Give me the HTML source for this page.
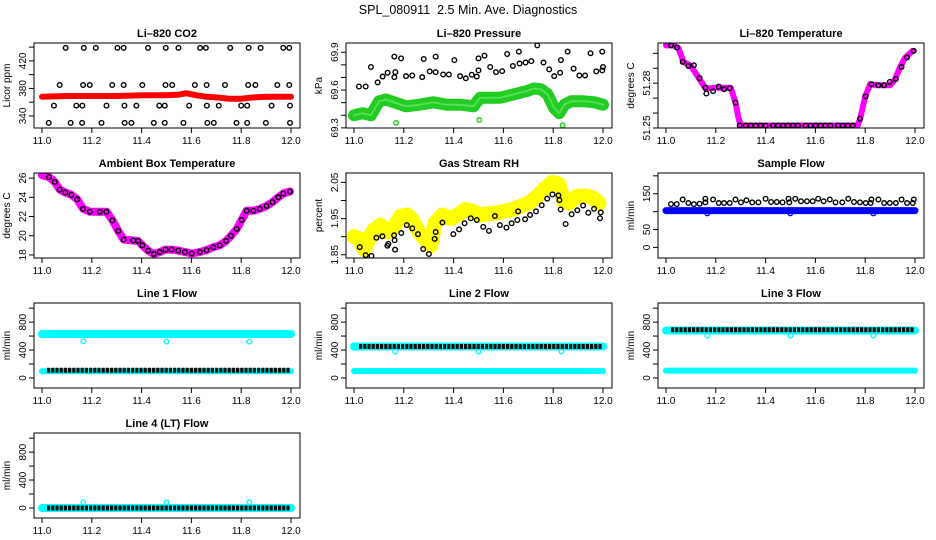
<!DOCTYPE html>
<html><head><meta charset="utf-8"><style>
html,body{margin:0;padding:0;background:#fff;}
svg{display:block;font-family:"Liberation Sans",sans-serif;}
</style></head><body>
<svg id="chart" width="936" height="540" viewBox="0 0 936 540" xmlns="http://www.w3.org/2000/svg">
<rect width="936" height="540" fill="#fff"/>
<text x="468" y="14" text-anchor="middle" font-size="12.5" style="white-space:pre">SPL_080911  2.5 Min. Ave. Diagnostics</text>
</svg>
<script>
// ---- CO2 ----
const co2BlackX=[11.095,11.168,11.216,11.303,11.328,11.426,11.497,11.548,11.635,11.658,11.756,11.830,11.878,11.969,11.993,
11.071,11.165,11.192,11.282,11.328,11.403,11.496,11.523,11.614,11.661,11.735,11.828,11.857,11.945,11.993,
11.048,11.138,11.162,11.259,11.331,11.379,11.471,11.493,11.591,11.662,11.710,11.800,11.824,11.922,11.996,
11.027,11.115,11.161,11.239,11.332,11.359,11.449,11.493,11.568,11.664,11.690,11.781,11.824,11.899,11.996];
const co2BlackY=[439,439,439,439,439,439,439,439,439,439,439,439,439,439,439,
385,385,385,385,385,385,385,385,385,385,385,385,385,385,385,
355,355,355,355,355,355,355,355,355,355,355,355,355,355,355,
330,330,330,330,330,330,330,330,330,330,330,330,330,330,330];
const co2RedX=[11.0,11.1,11.2,11.3,11.4,11.5,11.55,11.58,11.62,11.66,11.7,11.75,11.8,11.85,11.9,12.0];
const co2RedY=[368,369,369,369,370,370,371,373,370,368,367,365,365,367,368,368];
// ---- Pressure ----
const prGreenX=[11.0,11.034,11.068,11.101,11.128,11.169,11.209,11.264,11.318,11.372,11.426,11.480,11.507,11.534,11.588,11.642,11.696,11.723,11.75,11.777,11.804,11.824,11.845,11.872,11.926,11.966,12.0];
const prGreenY=[69.40,69.416,69.40,69.511,69.525,69.498,69.471,69.484,69.503,69.484,69.484,69.471,69.539,69.539,69.539,69.566,69.593,69.612,69.607,69.566,69.457,69.416,69.484,69.511,69.511,69.503,69.484];
const prGreenOutX=[11.169,11.503,11.838];
const prGreenOutY=[69.34,69.362,69.321];
const prBlackX=[11.020,11.047,11.068,11.095,11.115,11.135,11.162,11.166,11.162,11.189,11.209,11.234,11.274,11.280,11.304,11.328,11.328,11.358,11.381,11.403,11.426,11.449,11.473,11.493,11.500,11.500,11.524,11.547,11.570,11.595,11.615,11.638,11.662,11.665,11.689,11.712,11.736,11.761,11.784,11.804,11.828,11.831,11.858,11.882,11.905,11.928,11.950,11.973,11.997,12.0,11.997];
const prBlackY=[69.628,69.628,69.783,69.661,69.707,69.737,69.865,69.742,69.702,69.851,69.710,69.715,69.702,69.846,69.748,69.865,69.742,69.723,69.723,69.837,69.710,69.693,69.721,69.707,69.851,69.756,69.873,69.783,69.742,69.750,69.886,69.791,69.905,69.810,69.818,69.829,69.954,69.818,69.764,69.710,69.737,69.837,69.905,69.770,69.715,69.715,69.892,69.748,69.905,69.783,69.756];
// ---- Li-820 Temperature ----
const tmpX=[11.0,11.03,11.05,11.07,11.10,11.13,11.16,11.20,11.26,11.28,11.29,11.30,11.77,11.78,11.80,11.82,11.85,11.90,11.92,11.94,11.96,11.99];
const tmpY=[51.3053,51.3053,51.3034,51.2943,51.2915,51.2839,51.2763,51.2770,51.2770,51.2667,51.2574,51.2517,51.2517,51.2563,51.2712,51.2793,51.2786,51.2786,51.2828,51.2908,51.2970,51.3016];
const tmpBlackX=[11.020,11.044,11.067,11.090,11.112,11.135,11.158,11.162,11.189,11.212,11.233,11.256,11.279,11.296,11.32,11.34,11.36,11.38,11.40,11.43,11.45,11.47,11.49,11.51,11.53,11.56,11.58,11.60,11.62,11.64,11.66,11.69,11.71,11.73,11.75,11.779,11.802,11.825,11.853,11.876,11.899,11.923,11.946,11.968,11.995];
const tmpBlackY=[51.3053,51.3039,51.2943,51.2915,51.2920,51.2834,51.2770,51.2731,51.2747,51.2777,51.2759,51.2766,51.2671,51.2517,51.2517,51.2517,51.2517,51.2517,51.2517,51.2517,51.2517,51.2517,51.2517,51.2517,51.2517,51.2517,51.2517,51.2517,51.2517,51.2517,51.2517,51.2517,51.2517,51.2517,51.2517,51.2563,51.2712,51.2793,51.2786,51.2786,51.2809,51.2828,51.2908,51.2972,51.3016];
// ---- Ambient ----
const ambX=[11.0,11.028,11.051,11.071,11.094,11.118,11.141,11.165,11.192,11.232,11.259,11.283,11.306,11.328,11.366,11.386,11.403,11.426,11.449,11.473,11.496,11.520,11.547,11.574,11.601,11.634,11.661,11.688,11.714,11.739,11.759,11.782,11.802,11.822,11.849,11.875,11.902,11.926,11.949,11.969,11.996];
const ambY=[26.3,26.1,25.6,24.8,24.5,24.25,23.8,22.8,22.5,22.5,22.5,21.6,20.5,19.6,19.5,19.45,19.0,18.45,18.1,18.3,18.55,18.55,18.45,18.3,18.15,18.3,18.5,18.8,19.0,19.45,20.0,20.7,21.65,22.6,22.6,22.8,23.1,23.5,24.0,24.4,24.6];
// ---- RH ----
const rhYellowX=[11.0,11.020,11.040,11.054,11.080,11.107,11.134,11.161,11.187,11.214,11.234,11.261,11.288,11.308,11.325,11.355,11.388,11.415,11.448,11.475,11.509,11.535,11.569,11.602,11.636,11.669,11.703,11.730,11.763,11.797,11.823,11.843,11.863,11.897,11.930,11.957,11.984];
const rhYellowY=[1.90,1.894,1.866,1.885,1.918,1.932,1.913,1.927,1.956,1.96,1.946,1.913,1.89,1.875,1.937,1.96,1.95,1.96,1.975,1.97,1.96,1.963,1.965,1.97,1.975,1.984,1.993,2.008,2.03,2.05,2.045,1.998,1.993,2.012,2.012,2.008,1.993];
const rhBlackX=[11.023,11.047,11.070,11.090,11.114,11.134,11.138,11.161,11.163,11.165,11.190,11.212,11.234,11.257,11.278,11.301,11.324,11.328,11.355,11.399,11.422,11.444,11.469,11.493,11.519,11.542,11.566,11.586,11.612,11.633,11.656,11.659,11.687,11.707,11.731,11.754,11.776,11.797,11.821,11.825,11.830,11.850,11.874,11.897,11.920,11.941,11.964,11.988,11.991];
const rhBlackY=[1.871,1.849,1.847,1.897,1.901,1.875,1.880,1.904,1.890,1.864,1.910,1.932,1.923,1.907,1.866,1.852,1.894,1.913,1.939,1.907,1.920,1.937,1.951,1.946,1.927,1.916,1.957,1.932,1.925,1.937,1.946,1.970,1.948,1.960,1.970,1.987,2.005,2.017,2.014,2.001,1.975,1.935,1.962,1.973,1.986,1.966,1.977,1.951,1.967];
// ---- Sample Flow ----
const sfBlueX=[11.0,12.0];
const sfBlueY=[103,103];
const sfBlueOutX=[11.166,11.499,11.833];
const sfBlueOutY=[95,95,95];
const sfBlackX=[11.020,11.043,11.067,11.090,11.112,11.135,11.158,11.158,11.189,11.212,11.233,11.256,11.279,11.301,11.323,11.346,11.371,11.400,11.422,11.445,11.468,11.492,11.495,11.519,11.542,11.566,11.589,11.611,11.633,11.658,11.681,11.708,11.732,11.755,11.779,11.802,11.822,11.825,11.853,11.876,11.899,11.923,11.946,11.968,11.991,11.995];
const sfBlackY=[121,121,134,124,121,122,126,136,134,124,124,124,134,126,132,126,126,136,127,127,126,136,126,136,129,129,129,136,129,134,126,126,136,127,126,124,124,134,134,124,124,124,134,124,124,134];
// ---- Line flows ----
const flowX=[11.0,12.0];
const flowBlackX=[11.02,11.995];
const outX=[11.166,11.5,11.833];
const l1Cyan=[630,630]; const l1Black=[110,110]; const l1Low=[97,97]; const l1Out=[525,520,520];
const l2Cyan=[450,450]; const l2Black=[450,450]; const l2Low=[100,100]; const l2Out=[380,380,380];
const l3Cyan=[680,680]; const l3Black=[690,690]; const l3Low=[105,105]; const l3Out=[608,608,608];
const l4Cyan=[0,0]; const l4Black=[0,0]; const l4Out=[80,80,80];
// ---- tick arrays ----
const xTicks=[11.0,11.2,11.4,11.6,11.8,12.0];
const xTickLabels=["11.0","11.2","11.4","11.6","11.8","12.0"];
const flowTicks=[0,200,400,600,800,1000]; const flowLabels=["0","","400","","800",""];

const svg=document.getElementById('chart');
const NS='http://www.w3.org/2000/svg';
function mk(tag,attrs,parent){const e=document.createElementNS(NS,tag);for(const k in attrs)e.setAttribute(k,attrs[k]);(parent||svg).appendChild(e);return e;}

function panel(col,row,o){
  const L=34+312*col, T=43+130*row, W=266, H=85;
  const g=mk('g',{});
  
  
  const xs=v=>L+8+(v-11)*249;
  const ys=v=>T+H-(v-o.ylim[0])/(o.ylim[1]-o.ylim[0])*H;
  const t=mk('text',{x:L+W/2,y:T-6,'text-anchor':'middle','font-size':11,'font-weight':'bold'},g);
  t.textContent=o.title;
  
  
  const yl=mk('text',{transform:`translate(${L-24},${T+H/2}) rotate(-90)`,'text-anchor':'middle','font-size':10},g);
  yl.textContent=o.ylab;
  
  
  const ax=mk('g',{stroke:'#000','stroke-width':1},g);
  
  
  mk('line',{x1:xs(11),x2:xs(12),y1:T+H,y2:T+H},ax);
  xTicks.forEach((v,i)=>{
    mk('line',{x1:xs(v),x2:xs(v),y1:T+H,y2:T+H+5},ax);
    const tl=mk('text',{x:xs(v),y:T+H+16,'text-anchor':'middle','font-size':10,stroke:'none'},g);
    tl.textContent=xTickLabels[i];
    
    
  });
  const tk=o.ticks;
  mk('line',{x1:L,x2:L,y1:ys(tk[0]),y2:ys(tk[tk.length-1])},ax);
  tk.forEach((v,i)=>{
    mk('line',{x1:L-5,x2:L,y1:ys(v),y2:ys(v)},ax);
    if(o.labels[i]){
      const tl=mk('text',{transform:`translate(${L-8},${ys(v)}) rotate(-90)`,'text-anchor':'middle','font-size':10},g);
      tl.textContent=o.labels[i];
      
      
    }
  });
  const clip='clip'+col+row;
  const cp=mk('clipPath',{id:clip},g); mk('rect',{x:L,y:T,width:W,height:H},cp);
  const dg=mk('g',{'clip-path':`url(#${clip})`},g);
  o.draw(dg,xs,ys);
  mk('rect',{x:L,y:T,width:W,height:H,fill:'none',stroke:'#000','stroke-width':1},g);
}
function band(g,xs,ys,X,Y,color,w,name){
  let d='';X.forEach((x,i)=>{d+=(i?'L':'M')+xs(x).toFixed(1)+','+ys(Y[i]).toFixed(1);});
  const p=mk('path',{d:d,fill:'none',stroke:color,'stroke-width':w,'stroke-linecap':'round','stroke-linejoin':'round'},g);
  
  
  return p;
}
function pts(g,xs,ys,X,Y,color,name){
  X.forEach((x,i)=>{
    const c=mk('circle',{cx:xs(x),cy:ys(Y[i]),r:2.3,fill:'none',stroke:color,'stroke-width':1.4},g);
    
    
  });
}
function dotRow(g,xs,ys,X,Y,color,name){
  const p=band(g,xs,ys,X,Y,color,5,name);
  p.setAttribute('stroke-linecap','butt');
  p.setAttribute('stroke-dasharray','3.2 1');
}

panel(0,0,{name:'co2',title:'Li\u2013820 CO2',ylab:'Licor ppm',ylim:[322.5,446],ticks:[340,360,380,400,420,440],labels:['340','','380','','420',''],
  draw:(g,xs,ys)=>{band(g,xs,ys,co2RedX,co2RedY,'#ff0000',6,'co2-series');pts(g,xs,ys,co2BlackX,co2BlackY,'#000','co2-point');}});
panel(1,0,{name:'pressure',title:'Li\u2013820 Pressure',ylab:'kPa',ylim:[69.299,69.973],ticks:[69.3,69.4,69.5,69.6,69.7,69.8,69.9],labels:['69.3','','','69.6','','','69.9'],
  draw:(g,xs,ys)=>{band(g,xs,ys,prGreenX,prGreenY,'#22cc22',12,'pressure-series');band(g,xs,ys,prGreenX,prGreenY,'#55e055',2,'pressure-series-inner');pts(g,xs,ys,prGreenOutX,prGreenOutY,'#22cc22','pressure-outlier');pts(g,xs,ys,prBlackX,prBlackY,'#000','pressure-point');}});
panel(2,0,{name:'li820-temp',title:'Li\u2013820 Temperature',ylab:'degrees C',ylim:[51.25,51.3069],ticks:[51.25,51.26,51.27,51.28,51.29,51.30],labels:['51.25','','','51.28','',''],
  draw:(g,xs,ys)=>{band(g,xs,ys,tmpX,tmpY,'#ff00ff',6,'li820-temp-series');pts(g,xs,ys,tmpBlackX,tmpBlackY,'#000','li820-temp-point');}});
panel(0,1,{name:'ambient-temp',title:'Ambient Box Temperature',ylab:'degrees C',ylim:[17.68,26.53],ticks:[18,20,22,24,26],labels:['18','20','22','24','26'],
  draw:(g,xs,ys)=>{band(g,xs,ys,ambX,ambY,'#ff00ff',8,'ambient-temp-series');pts(g,xs,ys,ambX.slice(1),ambY.slice(1),'#000','ambient-temp-point');}});
panel(1,1,{name:'rh',title:'Gas Stream RH',ylab:'percent',ylim:[1.841,2.076],ticks:[1.85,1.90,1.95,2.00,2.05],labels:['1.85','','1.95','','2.05'],
  draw:(g,xs,ys)=>{band(g,xs,ys,rhYellowX,rhYellowY,'#ffff00',15,'rh-series');pts(g,xs,ys,rhBlackX,rhBlackY,'#000','rh-point');}});
panel(2,1,{name:'sample-flow',title:'Sample Flow',ylab:'ml/min',ylim:[-29.6,208],ticks:[0,50,100,150,200],labels:['0','50','','150',''],
  draw:(g,xs,ys)=>{band(g,xs,ys,sfBlueX,sfBlueY,'#0000ff',7,'sample-flow-series');pts(g,xs,ys,sfBlueOutX,sfBlueOutY,'#0000ff','sample-flow-outlier');pts(g,xs,ys,sfBlackX,sfBlackY,'#000','sample-flow-point');}});
function flowPanel(col,row,name,title,cy,bl,low,out){
  panel(col,row,{name:name,title:title,ylab:'ml/min',ylim:[-144,1074],ticks:flowTicks,labels:flowLabels,
    draw:(g,xs,ys)=>{
      band(g,xs,ys,flowX,cy,'#00ffff',8,name+'-cyan-series');
      if(low) band(g,xs,ys,flowX,low,'#00ffff',6,name+'-cyan-low-series');
      pts(g,xs,ys,outX,out,'#00ffff',name+'-outlier');
      dotRow(g,xs,ys,flowBlackX,bl,'#111',name+'-black-series');
    }});
}
flowPanel(0,2,'line1-flow','Line 1 Flow',l1Cyan,l1Black,l1Low,l1Out);
flowPanel(1,2,'line2-flow','Line 2 Flow',l2Cyan,l2Black,l2Low,l2Out);
flowPanel(2,2,'line3-flow','Line 3 Flow',l3Cyan,l3Black,l3Low,l3Out);
flowPanel(0,3,'line4-flow','Line 4 (LT) Flow',l4Cyan,l4Black,null,l4Out);
</script>
</body></html>
